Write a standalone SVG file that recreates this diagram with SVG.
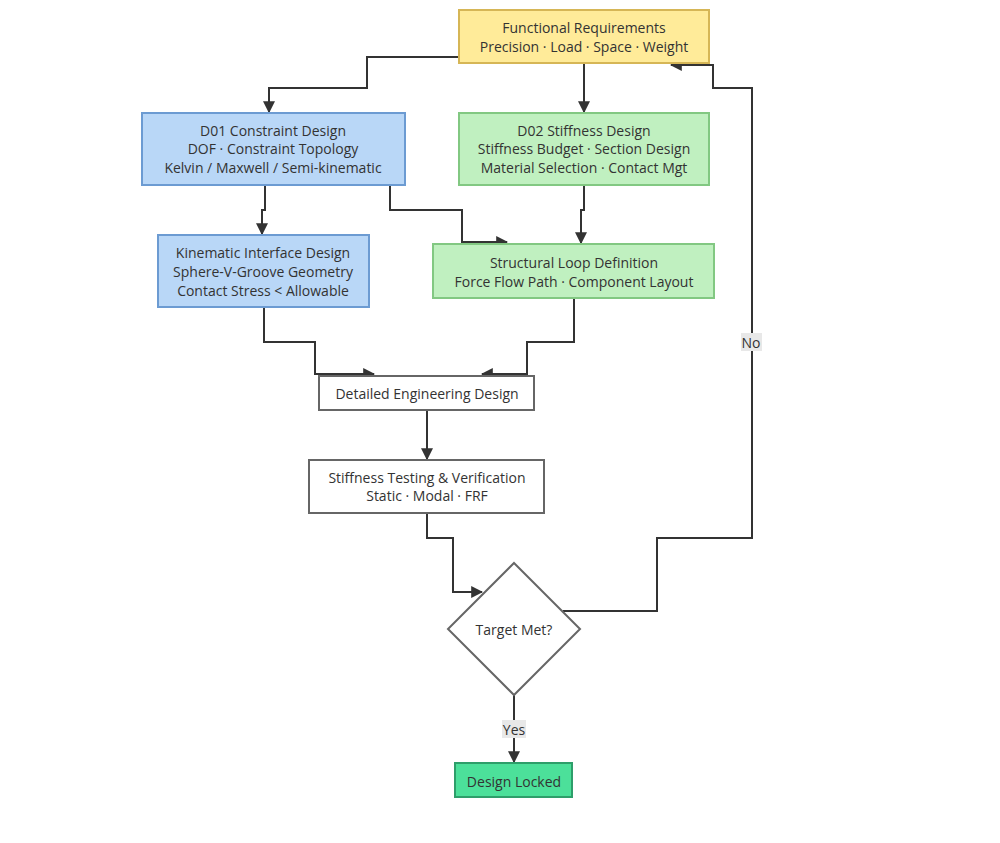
<svg xmlns="http://www.w3.org/2000/svg" width="1000" height="843" viewBox="0 0 1000 843">
<style>
text{font-family:"Open Sans","DejaVu Sans",sans-serif;font-size:14px;fill:#333;text-anchor:middle;dominant-baseline:central}
.e{fill:none;stroke:#333;stroke-width:2}
.w{fill:#fff;stroke:#666;stroke-width:2}
.lb{fill:#e8e8e8}
</style>
<defs><marker id="a" viewBox="0 0 10 10" refX="9" refY="5" markerWidth="6" markerHeight="6" orient="auto" markerUnits="strokeWidth"><path d="M0,0L10,5L0,10z" fill="#333"/></marker></defs>
<rect width="1000" height="843" fill="#fff"/>
<g id="connectors">
<path class="e" marker-end="url(#a)" d="M459,57H367V88H269V112"/>
<path class="e" marker-end="url(#a)" d="M584,63V112"/>
<path class="e" marker-end="url(#a)" d="M265,185V210H262V234"/>
<path class="e" marker-end="url(#a)" d="M390,185V210H462V242H507"/>
<path class="e" marker-end="url(#a)" d="M584,185V210H581V243"/>
<path class="e" marker-end="url(#a)" d="M264,307V342H315V374H374"/>
<path class="e" marker-end="url(#a)" d="M574,298V342H527V374H482"/>
<path class="e" marker-end="url(#a)" d="M427,410V459"/>
<path class="e" marker-end="url(#a)" d="M427,513V538H453V592H482"/>
<path class="e" marker-end="url(#a)" d="M563,611H657V538H752V88H713V65H671"/>
<path class="e" marker-end="url(#a)" d="M514,695V762"/>
<rect class="lb" x="741" y="333" width="21" height="18"/><text x="751" y="342">No</text>
<rect class="lb" x="502" y="720" width="24" height="18"/><text x="514" y="729">Yes</text>
</g>
<g id="n1"><rect x="459" y="10" width="250" height="53" fill="#ffeb99" stroke="#d6b656" stroke-width="2"/><text x="584" y="27">Functional Requirements</text><text x="584" y="46">Precision · Load · Space · Weight</text></g>
<g id="n2"><rect x="142" y="113" width="263" height="72" fill="#b9d7f7" stroke="#6c9bd2" stroke-width="2"/><text x="273" y="130">D01 Constraint Design</text><text x="273" y="148">DOF · Constraint Topology</text><text x="273" y="167">Kelvin / Maxwell / Semi-kinematic</text></g>
<g id="n3"><rect x="459" y="113" width="250" height="72" fill="#c0f0c0" stroke="#82c882" stroke-width="2"/><text x="584" y="130">D02 Stiffness Design</text><text x="584" y="148">Stiffness Budget · Section Design</text><text x="584" y="167">Material Selection · Contact Mgt</text></g>
<g id="n4"><rect x="158" y="235" width="211" height="72" fill="#b9d7f7" stroke="#6c9bd2" stroke-width="2"/><text x="263" y="252">Kinematic Interface Design</text><text x="263" y="271">Sphere-V-Groove Geometry</text><text x="263" y="290">Contact Stress &lt; Allowable</text></g>
<g id="n5"><rect x="433" y="244" width="281" height="54" fill="#c0f0c0" stroke="#82c882" stroke-width="2"/><text x="574" y="262">Structural Loop Definition</text><text x="574" y="281">Force Flow Path · Component Layout</text></g>
<g id="n6"><rect class="w" x="319" y="376" width="215" height="34"/><text x="427" y="393">Detailed Engineering Design</text></g>
<g id="n7"><rect class="w" x="309" y="460" width="235" height="53"/><text x="427" y="477">Stiffness Testing &amp; Verification</text><text x="427" y="495">Static · Modal · FRF</text></g>
<g id="n8"><path class="w" d="M514,563L580,629L514,695L448,629z"/><text x="514" y="629">Target Met?</text></g>
<g id="n9"><rect x="455" y="763" width="117" height="34" fill="#4ce09a" stroke="#2e9e6a" stroke-width="2"/><text x="514" y="781">Design Locked</text></g>
</svg>
